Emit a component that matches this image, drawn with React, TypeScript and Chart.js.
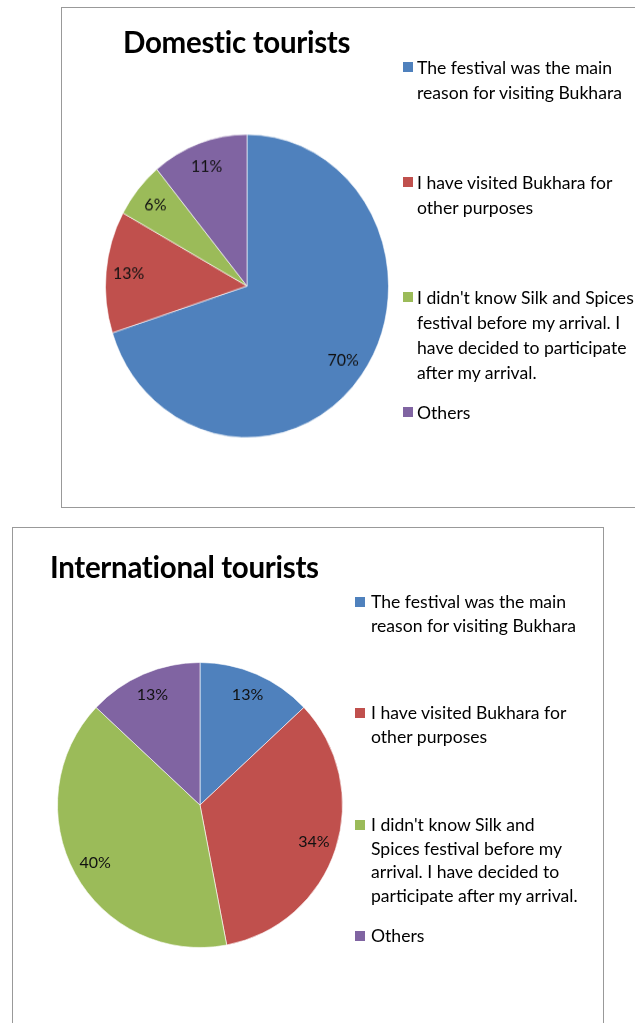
import React, { useEffect, useRef } from "react";
import { Chart, registerables } from "chart.js";

Chart.register(...registerables);

const categories = [
  "The festival was the main reason for visiting Bukhara",
  "I have visited Bukhara for other purposes",
  "I didn't know Silk and Spices festival before my arrival. I have decided to participate after my arrival.",
  "Others",
];
// Line-broken legend text for the international chart (its legend wraps differently)
const internationalLegendLines = [
  ["The festival was the main", "reason for visiting Bukhara"],
  ["I have visited Bukhara for", "other purposes"],
  ["I didn't know Silk and", "Spices festival before my", "arrival. I have decided to", "participate after my arrival."],
  ["Others"],
];
const domesticLegendLines = [
  ["The festival was the main", "reason for visiting Bukhara"],
  ["I have visited Bukhara for", "other purposes"],
  ["I didn't know Silk and Spices", "festival before my arrival. I", "have decided to participate", "after my arrival."],
  ["Others"],
];
const domesticValues = [70, 13, 6, 11];
const internationalValues = [13, 34, 40, 13];
const colors = ["#4F81BD", "#C0504D", "#9BBB59", "#8064A2"];
const domesticTitle = "Domestic tourists";
const internationalTitle = "International tourists";

const FONT = "Lato, 'Open Sans', sans-serif";

const pctLabels = {
  id: "pctLabels",
  afterDatasetsDraw(chart: any) {
    const ctx = chart.ctx;
    const meta = chart.getDatasetMeta(0);
    const data = chart.data.datasets[0].data as number[];
    const total = data.reduce((a: number, b: number) => a + b, 0);
    const k = (chart.options as any).labelYScale || 1;
    ctx.save();
    ctx.font = `16px ${FONT}`;
    ctx.fillStyle = "#111";
    ctx.textAlign = "center";
    ctx.textBaseline = "middle";
    meta.data.forEach((arc: any, i: number) => {
      const p = arc.getProps(["x", "y", "startAngle", "endAngle", "outerRadius"], true);
      const mid = (p.startAngle + p.endAngle) / 2;
      const r = p.outerRadius * 0.84;
      const pct = Math.round((data[i] / total) * 100);
      const tx = p.x + Math.cos(mid) * r;
      const ty = p.y + Math.sin(mid) * r;
      ctx.save();
      ctx.translate(tx, ty);
      ctx.scale(1, 1 / k);
      ctx.fillText(pct + "%", 0, 0);
      ctx.restore();
    });
    ctx.restore();
  },
};

type PieProps = {
  values: number[];
  width: number;
  height: number;
  cssHeight: number;
  padding: { left: number; right: number; top: number; bottom: number };
};

function PieCanvas({ values, width, height, cssHeight, padding }: PieProps) {
  const ref = useRef<HTMLCanvasElement | null>(null);
  useEffect(() => {
    if (!ref.current) return;
    const chart = new Chart(ref.current, {
      type: "pie",
      data: {
        labels: categories,
        datasets: [
          {
            data: values,
            backgroundColor: colors,
            borderColor: "rgba(255,255,255,0.6)",
            borderWidth: 1,
          },
        ],
      },
      options: {
        responsive: false,
        animation: false,
        devicePixelRatio: 1,
        labelYScale: cssHeight / height,
        layout: { padding },
        plugins: {
          legend: { display: false },
          tooltip: { enabled: false },
          title: { display: false },
        },
      } as any,
      plugins: [pctLabels],
    });
    return () => chart.destroy();
  }, []);
  return (
    <canvas
      ref={ref}
      width={width}
      height={height}
      style={{ width: width + "px", height: cssHeight + "px", display: "block" }}
    />
  );
}

type LegendProps = {
  lines: string[][];
  markerX: number;
  textX: number;
  centers: number[];
  lineHeight: number;
  fontSize: number;
};

function Legend({ lines, markerX, textX, centers, lineHeight, fontSize }: LegendProps) {
  return (
    <>
      {categories.map((c, i) => (
        <React.Fragment key={i}>
          <div
            style={{
              position: "absolute",
              left: markerX,
              top: centers[i] - 5,
              width: 10,
              height: 10,
              background: colors[i],
            }}
          />
          <div
            title={c}
            style={{
              position: "absolute",
              left: textX,
              top: centers[i] - lineHeight / 2,
              fontFamily: FONT,
              fontSize,
              lineHeight: lineHeight + "px",
              color: "#000",
              whiteSpace: "nowrap",
            }}
          >
            {lines[i].map((l, j) => (
              <div key={j}>{l}</div>
            ))}
          </div>
        </React.Fragment>
      ))}
    </>
  );
}

export default function App() {
  const titleSize = 29.5;
  const titleStyle: React.CSSProperties = {
    position: "absolute",
    fontFamily: FONT,
    fontWeight: 700,
    fontSize: titleSize,
    lineHeight: "1",
    whiteSpace: "nowrap",
    letterSpacing: -0.3,
  };
  return (
    <div
      style={{
        position: "absolute",
        left: 0,
        top: 0,
        width: 635,
        height: 1023,
        overflow: "hidden",
        background: "#fff",
      }}
    >
      {/* Top box */}
      <div
        style={{
          position: "absolute",
          left: 61,
          top: 7,
          width: 600,
          height: 499,
          border: "1px solid #999",
        }}
      />
      <div style={{ position: "absolute", left: 62, top: 8 }}>
        <PieCanvas
          values={domesticValues}
          width={573}
          height={465}
          cssHeight={498}
          padding={{ left: 43, right: 246, top: 117.6, bottom: 63.4 }}
        />
      </div>
      <div style={{ ...titleStyle, left: 123, top: 53 - 0.887 * titleSize }}>{domesticTitle}</div>
      <Legend
        lines={domesticLegendLines}
        markerX={403}
        textX={417}
        centers={[67, 182, 297, 412]}
        lineHeight={25}
        fontSize={17.6}
      />

      {/* Bottom box */}
      <div
        style={{
          position: "absolute",
          left: 12,
          top: 527,
          width: 590,
          height: 520,
          border: "1px solid #999",
        }}
      />
      <div style={{ position: "absolute", left: 13, top: 528 }}>
        <PieCanvas
          values={internationalValues}
          width={590}
          height={495}
          cssHeight={495}
          padding={{ left: 44, right: 260, top: 134, bottom: 75 }}
        />
      </div>
      <div style={{ ...titleStyle, left: 50, top: 578 - 0.887 * titleSize }}>{internationalTitle}</div>
      <Legend
        lines={internationalLegendLines}
        markerX={355}
        textX={371}
        centers={[602, 713, 825, 936]}
        lineHeight={23.5}
        fontSize={17.6}
      />
    </div>
  );
}
